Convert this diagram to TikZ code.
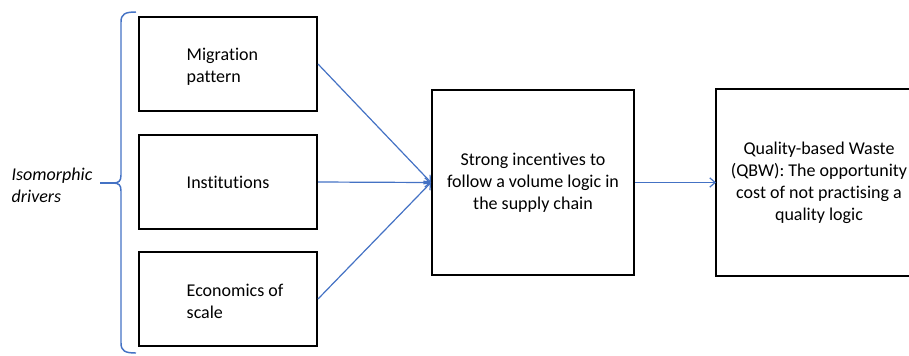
\documentclass[tikz,border=0pt]{standalone}
\usepackage{fontspec}
\setmainfont{Carlito}[Ligatures=NoCommon]
\usetikzlibrary{arrows.meta}
\definecolor{msblue}{RGB}{68,114,196}

\begin{document}
\begin{tikzpicture}[x=0.75pt, y=-0.75pt,
  every node/.style={font=\fontsize{13.5pt}{16.5pt}\selectfont},
  box/.style={draw, line width=1.5pt, minimum width=133.5pt, minimum height=70.5pt},
  bigbox/.style={draw, line width=1.5pt, minimum width=151.5pt, minimum height=138.75pt, align=center},
  flow/.style={draw=msblue, line width=0.9pt, -{Straight Barb[length=4pt, width=7pt]}}]
  \useasboundingbox (0,0) rectangle (909,355);

  % Left: the three drivers
  \node[box] (mig) at (228,64) {};
  \node[anchor=west, align=left] (migtext) at (182,67) {Migration\\pattern};
  \node[box] (inst) at (228,182) {};
  \node[anchor=west, align=left] (insttext) at (182,182) {Institutions};
  \node[box] (eco) at (228,299) {};
  \node[anchor=west, align=left] (ecotext) at (182,301) {Economics of\\scale};

  % Brace and its label
  \draw[msblue, line width=1.1pt] (136,12) .. controls (125,12) and (121,14) .. (121,22) -- (121,175)
    .. controls (121,181) and (119,183) .. (113,183) .. controls (119,183) and (121,185) .. (121,191)
    -- (121,343) .. controls (121,351) and (125,353) .. (136,353);
  \draw[msblue, line width=1.1pt] (113,183) -- (100,183);
  \node[anchor=west, align=left, font=\fontsize{13.5pt}{16.5pt}\selectfont\itshape] (drivers) at (7,185) {Isomorphic\\drivers};

  % Middle and right boxes (right one runs off the page)
  \node[bigbox] (volume) at (533,182.5) {Strong incentives to\\follow a volume logic in\\the supply chain};
  \node[bigbox, draw=none, minimum width=180pt, anchor=west] (qbw) at (716,182.5) {};
  \draw[line width=1.5pt] (qbw.north east) -- (qbw.north west) -- (qbw.south west) -- (qbw.south east);
  \node[align=center] (qbwtext) at (819,182.5) {Quality-based Waste\\(QBW): The opportunity\\cost of not practising a\\quality logic};

  % Arrows
  \draw[flow] (mig.east) -- (volume.west);
  \draw[flow] (inst.east) -- (volume.west);
  \draw[flow] (eco.east) -- (volume.west);
  \draw[flow] (volume.east) -- (qbw.west);
\end{tikzpicture}
\end{document}
